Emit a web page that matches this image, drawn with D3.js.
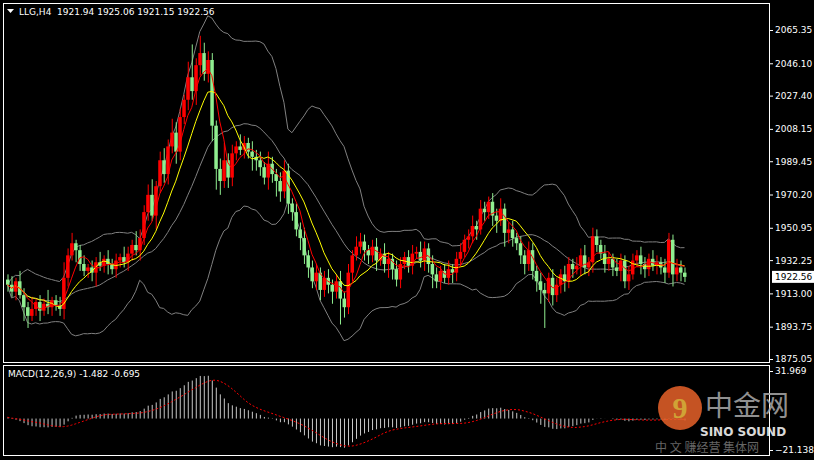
<!DOCTYPE html>
<html><head><meta charset="utf-8">
<script src="https://cdn.jsdelivr.net/npm/d3@7"></script>
<style>body{margin:0;background:#000}svg{display:block}</style></head>
<body><svg id="c" width="814" height="460"></svg>
<script>
const closes=[1918,1914,1920,1912,1905,1900,1904,1908,1903,1907,
1905,1909,1906,1904,1922,1935,1942,1938,1930,1926,
1928,1925,1931,1929,1933,1930,1927,1932,1934,1931,
1936,1941,1938,1945,1960,1970,1958,1975,1990,1982,
1998,2006,1995,2015,2025,2038,2030,2045,2052,2040,
2048,2010,1985,1978,1990,1980,1994,1998,1996,2000,
1995,1992,1990,1986,1980,1988,1982,1978,1972,1984,
1965,1960,1950,1945,1935,1928,1920,1925,1915,1922,
1918,1914,1920,1910,1905,1925,1935,1940,1943,1938,
1935,1940,1932,1936,1930,1933,1927,1921,1930,1934,
1929,1936,1937,1932,1939,1930,1924,1920,1926,1922,
1927,1925,1933,1937,1944,1946,1952,1950,1962,1960,
1966,1958,1955,1962,1948,1950,1945,1942,1935,1930,
1938,1926,1920,1915,1913,1922,1912,1918,1924,1920,
1930,1927,1929,1935,1928,1931,1946,1941,1936,1930,
1933,1928,1926,1932,1920,1924,1932,1935,1930,1927,
1933,1929,1931,1928,1925,1944,1924,1928,1925,1922.56];
const opens0=[1921];
const seedPrice=[1930];
const wickHi=[3,5,2,6,4,3,7,2,4,3,8,2,3,5,9,4,6,2,3,5,2,4,3,6,2,5,3,4,2,6,
4,3,8,5,4,6,9,3,5,7,4,8,6,5,3,9,19,4,10,6,5,4,3,6,10,4,5,3,7,4,
3,6,4,5,3,7,4,3,5,6,4,3,5,4,6,3,4,5,3,4,5,3,4,6,4,5,3,6,5,4,
3,4,5,3,6,4,3,5,4,3,4,5,3,6,4,3,5,4,3,4,5,3,4,5,3,4,6,3,5,4,
3,5,4,6,3,4,5,3,4,3,5,4,3,5,4,3,5,4,3,5,4,3,5,4,6,3,5,4,3,5,
4,3,5,4,3,5,4,3,5,4,3,5,4,3,5,4,3,5,4,3];
const wickLo=[4,3,5,2,8,7,3,4,6,3,4,5,3,4,6,5,3,7,4,3,4,5,8,3,4,6,3,5,4,3,
5,4,3,6,4,5,3,8,4,5,6,4,7,5,4,6,5,8,6,4,5,9,12,8,4,6,5,4,3,5,
4,8,6,5,4,7,5,9,6,4,6,5,4,7,5,6,4,5,6,4,5,7,4,15,6,4,5,3,4,6,
5,4,6,3,5,8,6,4,5,3,4,5,3,4,6,5,8,4,5,3,4,6,5,4,3,5,4,6,3,5,
4,6,7,3,8,6,5,4,5,6,4,5,6,8,20,5,6,4,5,6,4,5,3,6,4,5,6,4,3,5,
4,5,3,6,4,5,3,4,6,5,4,3,5,4,6,3,7,4,5,3];
const priceTicks=[2065.35,2046.10,2027.40,2008.15,1989.45,1970.20,1950.95,1932.25,1913.00,1893.75,1875.05];
const macdTicks=[31.969,-21.138];
const title="LLG,H4  1921.94 1925.06 1921.15 1922.56";
const macdTitle="MACD(12,26,9) -1.482 -0.695";

const svg=d3.select("#c");
const n=closes.length;
const opens=closes.map((c,i)=>i?closes[i-1]:opens0[0]);
const highs=closes.map((c,i)=>Math.max(c,opens[i])+wickHi[i]);
const lows=closes.map((c,i)=>Math.min(c,opens[i])-wickLo[i]);
const x=d3.scaleBand().domain(d3.range(n)).range([5,687]).padding(0.25);
const cx=i=>x(i)+x.bandwidth()/2;
const y=d3.scaleLinear().domain([1875.05,2065.35]).range([359,30]);
const ym=d3.scaleLinear().domain([-21.138,31.969]).range([450,371]);

svg.append("rect").attr("x",3.5).attr("y",3.5).attr("width",766).attr("height",359).attr("fill","none").attr("stroke","#fff");
svg.append("rect").attr("x",3.5).attr("y",365.5).attr("width",766).attr("height",90).attr("fill","none").attr("stroke","#fff");
svg.append("defs").append("clipPath").attr("id","cp").append("rect").attr("x",4).attr("y",4).attr("width",765).attr("height",358);
const g=svg.append("g").attr("clip-path","url(#cp)");

const sma=(arr,p)=>arr.map((v,i)=>d3.mean(arr.slice(Math.max(0,i-p+1),i+1)));
const ema=(arr,p,s)=>{const k=2/(p+1);let e=s;return arr.map(v=>e=v*k+e*(1-k));};
const mid=sma(closes,20);
const sd=closes.map((v,i)=>d3.deviation(closes.slice(Math.max(0,i-19),i+1))||0);
const up=mid.map((m,i)=>m+2*sd[i]), dn=mid.map((m,i)=>m-2*sd[i]);
const ma5=sma(closes,5), ma10=sma(closes,10);
const line=d3.line().x((d,i)=>cx(i)).y(d=>y(d));
[up,mid,dn].forEach(a=>g.append("path").attr("d",line(a)).attr("fill","none").attr("stroke","#808080").attr("stroke-width",1));

const cg=g.selectAll("g.c").data(closes).join("g");
cg.append("line").attr("x1",(d,i)=>cx(i)+0.5).attr("x2",(d,i)=>cx(i)+0.5)
 .attr("y1",(d,i)=>y(highs[i])).attr("y2",(d,i)=>y(lows[i]))
 .attr("stroke",(d,i)=>d>=opens[i]?"#ff0000":"#90ee90");
cg.append("rect").attr("x",(d,i)=>x(i)).attr("width",x.bandwidth()+0.5)
 .attr("y",(d,i)=>y(Math.max(d,opens[i]))).attr("height",(d,i)=>Math.max(1,Math.abs(y(d)-y(opens[i]))))
 .attr("fill",(d,i)=>d>=opens[i]?"#ff0000":"#90ee90");
g.append("path").attr("d",line(ma10)).attr("fill","none").attr("stroke","#ffff00").attr("stroke-width",1);
g.append("path").attr("d",line(ma5)).attr("fill","none").attr("stroke","#ff0000").attr("stroke-width",1);

const ax=svg.append("g").attr("transform","translate(770,0)")
 .call(d3.axisRight(y).tickValues(priceTicks).tickSize(3).tickFormat(d3.format(".2f")));
ax.select(".domain").remove();
ax.selectAll("line").attr("stroke","#fff");
ax.selectAll("text").attr("fill","#fff").attr("font-family","DejaVu Sans, sans-serif").attr("font-size",9).attr("x",5);
svg.append("rect").attr("x",772).attr("y",y(1922.56)-6).attr("width",42).attr("height",12).attr("fill","#fff");
svg.append("text").attr("x",775).attr("y",y(1922.56)+3.5).text("1922.56").attr("fill","#000").attr("font-size",9).attr("font-family","DejaVu Sans, sans-serif");

svg.append("path").attr("d","M7,9 L14,9 L10.5,13 Z").attr("fill","#fff");
svg.append("text").attr("x",19).attr("y",15).text(title).attr("fill","#fff").attr("font-size",9).attr("font-family","DejaVu Sans, sans-serif").attr("xml:space","preserve");

const e12=ema(closes,12,seedPrice[0]), e26=ema(closes,26,seedPrice[0]-2);
const macd=e12.map((v,i)=>v-e26[i]);
const sig=sma(macd,9);
const mg=svg.append("g");
mg.selectAll("line.h").data(macd).join("line")
 .attr("x1",(d,i)=>cx(i)+0.5).attr("x2",(d,i)=>cx(i)+0.5).attr("y1",ym(0)).attr("y2",d=>ym(d))
 .attr("stroke","#c8c8c8").attr("stroke-width",1);
mg.append("path").attr("d",d3.line().x((d,i)=>cx(i)).y(d=>ym(d))(sig)).attr("fill","none").attr("stroke","#ff0000").attr("stroke-dasharray","2,2");
const mx=svg.append("g").attr("transform","translate(770,0)").call(d3.axisRight(ym).tickValues(macdTicks).tickSize(3).tickFormat(d3.format(".3f")));
mx.select(".domain").remove();mx.selectAll("line").attr("stroke","#fff");
mx.selectAll("text").attr("fill","#fff").attr("font-size",9).attr("font-family","DejaVu Sans, sans-serif").attr("x",5);
svg.append("text").attr("x",8).attr("y",377).text(macdTitle).attr("fill","#fff").attr("font-size",9).attr("font-family","DejaVu Sans, sans-serif");

const w=svg.append("g").attr("opacity",0.85);
w.append("circle").attr("cx",680).attr("cy",408).attr("r",22).attr("fill","#e8622a");
w.append("text").attr("x",680).attr("y",418).attr("text-anchor","middle").text("9").attr("fill","#f5c040").attr("font-size",30).attr("font-weight","bold");
w.append("text").attr("x",705).attr("y",416).text("中金网").attr("fill","#aaa").attr("font-size",28).attr("font-family","Noto Sans CJK SC");
w.append("text").attr("x",700).attr("y",436).text("SINO SOUND").attr("fill","#fff").attr("font-size",12).attr("font-weight","bold").attr("font-family","DejaVu Sans");
w.append("text").attr("x",655).attr("y",452).text("中 文 赚经营 集体网").attr("fill","#777").attr("font-size",12).attr("font-family","Noto Sans CJK SC");
</script></body></html>
